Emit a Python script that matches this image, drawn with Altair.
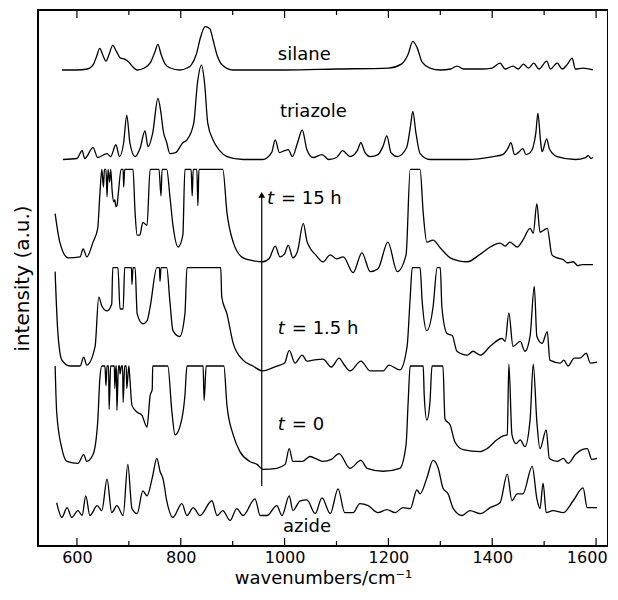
import altair as alt
import pandas as pd

# ---- spectra (wavenumber, displayed intensity in a.u. incl. stacking offset) ----
SILANE = [(571,484),(600,484),(620,485),(632,490),(638,498),(644,506),(650,499),(656,493),(662,500),(669,509),(676,503),(684,496),(692,495),(700,492),(708,487),(716,484),(730,486),(742,492),(750,502),(756,510),(762,500),(770,490),(780,486),(798,484),(812,486),(820,489),(830,500),(838,517),(847,528),(856,526),(862,515),(870,499),(880,489),(900,484),(1000,484),(1100,485),(1200,486),(1225,490),(1238,500),(1247,513),(1255,507),(1265,492),(1280,486),(1300,484),(1320,485),(1332,488),(1345,485),(1380,485),(1400,486),(1415,491),(1425,485),(1440,488),(1450,485),(1460,490),(1470,486),(1480,491),(1490,485),(1505,493),(1512,485),(1525,491),(1535,485),(1545,490),(1554,496),(1560,485),(1575,486),(1594,484)]
TRIAZOLE = [(573,393),(600,394),(610,402),(615,394),(631,405),(640,395),(658,399),(665,396),(675,408),(682,396),(690,410),(696,438),(702,410),(712,396),(722,405),(731,422),(737,406),(746,420),(756,455),(762,440),(766,423),(773,410),(779,399),(790,400),(804,410),(812,413),(825,430),(832,470),(840,489),(846,470),(852,430),(862,413),(875,402),(889,396),(920,393),(958,393),(975,400),(982,413),(990,400),(1000,402),(1007,403),(1015,396),(1025,410),(1034,423),(1043,403),(1055,395),(1072,398),(1085,393),(1100,395),(1112,402),(1126,396),(1140,402),(1147,410),(1155,400),(1165,396),(1180,398),(1190,407),(1197,417),(1205,400),(1217,396),(1235,405),(1242,425),(1247,442),(1253,420),(1261,399),(1280,393),(1350,393),(1402,396),(1420,398),(1430,404),(1436,410),(1443,398),(1450,400),(1459,404),(1465,398),(1473,400),(1479,406),(1484,420),(1488,440),(1493,412),(1496,401),(1505,414),(1510,404),(1525,396),(1560,393),(1580,395),(1585,397),(1590,394),(1594,395)]
T15H = [(558,338),(567,309),(583,293),(606,294),(612,302),(619,294),(631,309),(640,323),(644,356),(648,383),(651,365),(653,383),(656,383),(658,355),(660,383),(663,370),(665,383),(668,360),(671,350),(673,352),(675,345),(677,346),(680,360),(685,383),(689,383),(690,365),(692,383),(708,383),(712,339),(716,316),(721,316),(727,329),(735,326),(741,383),(758,383),(762,356),(764,383),(773,383),(779,356),(785,326),(795,304),(804,316),(808,383),(820,383),(822,356),(824,383),(831,383),(833,346),(835,383),(881,383),(889,339),(901,309),(920,293),(940,290),(958,289),(970,292),(982,305),(991,294),(1000,297),(1007,306),(1016,293),(1025,300),(1036,328),(1043,310),(1049,303),(1060,296),(1074,289),(1088,296),(1100,292),(1113,294),(1132,278),(1149,298),(1165,279),(1180,282),(1199,309),(1217,279),(1234,296),(1242,383),(1261,383),(1267,339),(1274,309),(1286,311),(1300,303),(1319,293),(1335,290),(1352,289),(1375,296),(1396,304),(1415,308),(1425,305),(1434,309),(1448,304),(1459,311),(1473,323),(1479,318),(1486,348),(1492,319),(1506,323),(1515,296),(1525,293),(1537,291),(1544,288),(1556,289),(1565,285),(1573,286),(1594,286)]
T1_5H = [(558,279),(563,219),(571,189),(587,183),(606,183),(613,192),(619,184),(635,203),(642,253),(648,244),(658,239),(667,246),(669,283),(679,283),(683,241),(689,241),(692,283),(705,283),(706,266),(708,283),(712,283),(716,236),(727,226),(735,229),(741,243),(754,283),(759,283),(760,269),(762,283),(773,283),(779,249),(785,219),(798,213),(808,236),(812,283),(877,283),(879,253),(889,236),(901,206),(920,189),(939,183),(958,178),(985,183),(1000,186),(1009,199),(1020,186),(1034,194),(1043,188),(1055,189),(1074,190),(1090,182),(1105,191),(1115,184),(1126,178),(1147,188),(1165,178),(1190,178),(1201,184),(1222,179),(1236,203),(1242,253),(1246,283),(1261,283),(1265,249),(1274,219),(1286,243),(1294,283),(1300,283),(1303,243),(1313,216),(1323,214),(1332,198),(1352,194),(1363,198),(1377,194),(1396,203),(1419,211),(1425,208),(1432,237),(1440,203),(1454,208),(1463,198),(1473,214),(1481,264),(1486,213),(1496,206),(1506,218),(1511,189),(1531,186),(1538,189),(1546,183),(1558,191),(1569,191),(1581,196),(1589,186),(1602,187)]
T0 = [(558,183),(561,136),(571,99),(581,86),(602,84),(613,93),(619,86),(631,93),(640,126),(644,169),(648,183),(654,183),(656,163),(658,183),(661,183),(662,139),(665,183),(672,183),(673,160),(675,183),(676,183),(677,138),(680,183),(682,183),(683,175),(686,183),(688,183),(689,146),(692,183),(695,183),(696,160),(700,183),(702,170),(706,143),(716,136),(725,133),(735,121),(741,153),(745,159),(746,183),(775,183),(783,136),(789,113),(802,129),(808,153),(812,183),(843,183),(845,148),(849,183),(883,183),(889,143),(901,113),(914,96),(933,86),(947,83),(958,78),(985,79),(1001,83),(1009,99),(1016,86),(1034,86),(1049,91),(1059,89),(1074,86),(1090,88),(1105,94),(1126,79),(1147,87),(1159,79),(1190,76),(1222,79),(1234,103),(1238,146),(1242,183),(1267,183),(1269,153),(1274,128),(1280,146),(1284,183),(1305,183),(1309,129),(1319,123),(1328,106),(1344,98),(1377,96),(1390,99),(1409,108),(1421,112),(1429,113),(1432,185),(1438,113),(1446,104),(1454,108),(1463,101),(1473,129),(1479,185),(1486,126),(1492,99),(1504,118),(1510,89),(1525,86),(1537,89),(1546,84),(1560,93),(1573,98),(1583,99),(1592,88),(1602,89)]
AZIDE = [(561,44),(571,29),(581,39),(590,29),(602,36),(610,31),(617,51),(625,31),(639,41),(648,36),(658,68),(667,34),(677,41),(689,31),(698,83),(706,38),(716,33),(727,56),(735,51),(745,69),(754,89),(760,76),(766,68),(773,46),(785,29),(802,43),(812,31),(824,39),(837,31),(860,46),(870,31),(881,36),(895,26),(908,38),(920,31),(943,48),(953,31),(966,31),(985,41),(995,31),(1009,51),(1016,36),(1030,46),(1043,47),(1059,33),(1072,49),(1088,33),(1103,58),(1116,34),(1132,34),(1145,43),(1161,41),(1180,34),(1197,37),(1213,34),(1228,39),(1242,38),(1255,57),(1261,53),(1274,69),(1286,87),(1296,79),(1305,59),(1315,53),(1325,38),(1342,31),(1357,36),(1377,33),(1396,39),(1415,44),(1429,73),(1438,46),(1448,53),(1459,53),(1477,81),(1486,48),(1492,38),(1498,64),(1504,34),(1517,36),(1537,34),(1556,46),(1575,59),(1583,39),(1602,39)]

SERIES = {"silane": SILANE, "triazole": TRIAZOLE, "t=15h": T15H,
          "t=1.5h": T1_5H, "t=0": T0, "azide": AZIDE}

# labels
LABEL_TEXT = ["silane", "triazole", "azide"]
LABEL_X = [987, 991, 997]
LABEL_Y = [499, 441, 19]
TLABEL_REST = ["= 15 h", "= 1.5 h", "= 0"]
TLABEL_X = [966, 987, 987]
TLABEL_Y = [353, 221, 123]

# arrow
ARROW_X = 956
ARROW_Y0, ARROW_Y1 = 61, 357

MAJOR_TICKS = [600, 800, 1000, 1200, 1400, 1600]
MINOR_TICKS = [700, 900, 1100, 1300, 1500]

rows = []
for name, pts in SERIES.items():
    for i, (w, v) in enumerate(pts):
        rows.append({"series": name, "idx": i, "wn": w, "val": v})
df = pd.DataFrame(rows)

W, H = 570, 536
xs = alt.Scale(domain=[525, 1623], nice=False, zero=False)
ys = alt.Scale(domain=[0, 545], nice=False, zero=False)

lines = alt.Chart(df).mark_line(color="black", strokeWidth=1.3, clip=True,
                                interpolate="monotone").encode(
    x=alt.X("wn:Q", scale=xs,
            axis=alt.Axis(values=MAJOR_TICKS, format="d", ticks=False, domain=False, grid=False,
                          labelFontSize=16, labelFont="DejaVu Sans", labelColor="black",
                          labelPadding=3,
                          labelAlign=alt.condition("datum.value == 1600", alt.value("right"), alt.value("center")),
                          labelOffset=alt.condition("datum.value == 1600", alt.value(11), alt.value(0)),
                          title="wavenumbers/cm\u207b\u00b9",
                          titleFontSize=18, titleFont="DejaVu Sans", titleFontWeight="normal",
                          titleColor="black", titlePadding=4)),
    y=alt.Y("val:Q", scale=ys,
            axis=alt.Axis(labels=False, ticks=False, domain=False, grid=False,
                          title="intensity (a.u.)", titleFontSize=20, titleFont="DejaVu Sans",
                          titleFontWeight="normal", titleColor="black", titlePadding=6)),
    detail="series:N",
    order="idx:Q",
)

lab_df = pd.DataFrame({"t": LABEL_TEXT, "x": LABEL_X, "y": LABEL_Y})
labels = alt.Chart(lab_df).mark_text(align="left", baseline="middle", fontSize=18,
                                      font="DejaVu Sans", color="black").encode(
    x=alt.X("x:Q", scale=xs), y=alt.Y("y:Q", scale=ys), text="t:N")

tlab_df = pd.DataFrame({"t": TLABEL_REST, "x": TLABEL_X, "y": TLABEL_Y})
tital = alt.Chart(tlab_df).mark_text(align="left", baseline="middle", fontSize=18,
                                     font="DejaVu Sans", fontStyle="italic", color="black",
                                     text="t").encode(
    x=alt.X("x:Q", scale=xs), y=alt.Y("y:Q", scale=ys))
trest = alt.Chart(tlab_df).mark_text(align="left", baseline="middle", fontSize=18,
                                     font="DejaVu Sans", color="black", dx=14).encode(
    x=alt.X("x:Q", scale=xs), y=alt.Y("y:Q", scale=ys), text="t:N")

arr_df = pd.DataFrame({"x": [ARROW_X], "y0": [ARROW_Y0], "y1": [ARROW_Y1]})
arrow = alt.Chart(arr_df).mark_rule(color="black", strokeWidth=1.2).encode(
    x=alt.X("x:Q", scale=xs), y=alt.Y("y0:Q", scale=ys), y2="y1:Q")
head = alt.Chart(arr_df).mark_point(shape="triangle-up", filled=True, color="black",
                                    size=45, opacity=1).encode(
    x=alt.X("x:Q", scale=xs), y=alt.Y("y1:Q", scale=ys))

maj_df = pd.DataFrame({"x": MAJOR_TICKS})
min_df = pd.DataFrame({"x": MINOR_TICKS})
def ticks(d, length, top):
    if top:
        return alt.Chart(d).mark_rule(color="black", strokeWidth=1.2).encode(
            x=alt.X("x:Q", scale=xs), y=alt.value(0), y2=alt.value(length))
    return alt.Chart(d).mark_rule(color="black", strokeWidth=1.2).encode(
        x=alt.X("x:Q", scale=xs), y=alt.value(H), y2=alt.value(H - length))

chart = alt.layer(
    lines, labels, tital, trest, arrow, head,
    ticks(maj_df, 8, False), ticks(min_df, 5, False),
    ticks(maj_df, 8, True), ticks(min_df, 5, True),
).properties(
    width=W, height=H,
    autosize=alt.AutoSizeParams(type="none"),
    padding={"left": 30, "top": 2, "right": 0, "bottom": 44},
    background="white",
).configure_view(stroke="black", strokeWidth=2)

chart.save("out.html", embed_options={"renderer": "svg", "actions": False})
